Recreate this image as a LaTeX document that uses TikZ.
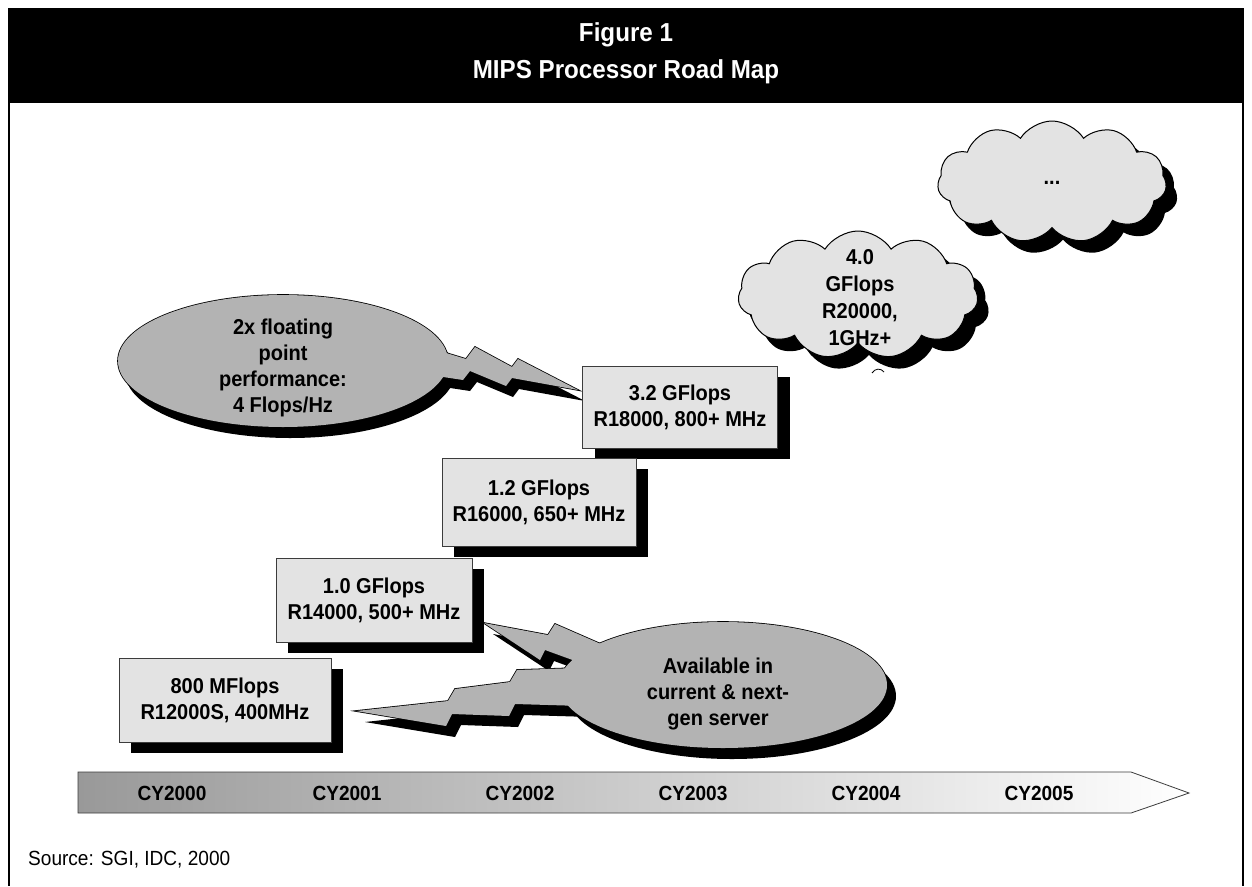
\documentclass[tikz,border=0pt]{standalone}
\usepackage{fontspec}
\setmainfont{Liberation Sans}[FakeStretch=0.93]
\usetikzlibrary{shapes.symbols,shadows}
\definecolor{boxgray}{HTML}{E3E3E3}
\definecolor{callgray}{HTML}{B3B3B3}
\definecolor{edgegray}{HTML}{3C3C3C}
\begin{document}
\begin{tikzpicture}[x=1pt,y=-1pt,
  txt/.style={font=\fontsize{21.5}{26}\selectfont\bfseries, align=center, text=black},
  procbox/.style={draw=edgegray, line width=0.9pt, fill=boxgray, txt, inner sep=0pt,
     drop shadow={shadow xshift=12pt, shadow yshift=-11pt, fill=black, opacity=1}},
  cloudbox/.style={cloud, cloud puffs=11, cloud puff arc=115, cloud ignores aspect,
     draw=black, line width=1pt, fill=boxgray, inner sep=0pt,
     drop shadow={shadow xshift=11pt, shadow yshift=-12pt, fill=black, opacity=1}},
  cyl/.style={font=\fontsize{20.5}{24}\selectfont\bfseries, text=black},
  shadowfill/.style={fill=black},
  calloutline/.style={draw=black, line width=1.6pt},
  calloutfill/.style={fill=callgray},
  ellA/.style={insert path={(283,361) ellipse [x radius=165pt, y radius=66pt]}},
  boltA/.style={insert path={(420,345) -- (466,359) -- (475,347) -- (512,367) -- (518,359) -- (578,390) -- (512,378) -- (506,386) -- (470,371) -- (463,380) -- (430,375) -- cycle}},
  ellB/.style={insert path={(723,685) ellipse [x radius=164pt, y radius=63pt]}},
  boltB/.style={insert path={(610,648) -- (555,624) -- (548,635) -- (484,623) -- (540,660) -- (545,650) -- (600,670) -- cycle}},
  boltC/.style={insert path={(578,668) -- (517,670) -- (510,682) -- (455,689) -- (448,701) -- (356,711) -- (446,726) -- (452,714) -- (509,716) -- (515,704) -- (582,706) -- cycle}},
]
\useasboundingbox (0,0) rectangle (1252,886);
\fill[white] (0,0) rectangle (1252,886);

% title bar and frame
\fill[black] (8,8) rectangle (1244,103);
\draw[black, line width=1.4pt] (9,103) -- (9,886);
\draw[black, line width=1.4pt] (1243,103) -- (1243,886);
\node[font=\fontsize{26}{30}\selectfont\bfseries, text=white] (t1) at (626,35) {Figure 1};
\node[font=\fontsize{26}{30}\selectfont\bfseries, text=white] (t2) at (626,72) {MIPS Processor Road Map};

% clouds
\node[cloudbox, minimum width=229pt, minimum height=122pt] (cA) at (1052,182) {};
\node[txt] (tA) at (1052,183) {...};
\node[cloudbox, minimum width=240pt, minimum height=128pt] (cB) at (858,295) {};
\node[txt, font=\fontsize{21.5}{27}\selectfont\bfseries] (tB) at (860,298) {4.0\\GFlops\\R20000,\\1GHz+};
\draw[black, line width=0.8pt] (872,373) .. controls (875,368) and (881,368) .. (884,372);

% callout 1 (floating point)
\begin{scope}[shift={(7,11)}]
  \fill[shadowfill, ellA];
  \fill[shadowfill, boltA];
\end{scope}
\path[calloutline, ellA];
\path[calloutline, boltA];
\fill[calloutfill, ellA];
\fill[calloutfill, boltA];
\node[txt] (tE1) at (283,368) {2x floating\\point\\performance:\\4 Flops/Hz};

% processor boxes
\node[procbox, minimum width=195pt, minimum height=82pt] (b4) at (680,407) {3.2 GFlops\\R18000, 800+ MHz};
\node[procbox, minimum width=194pt, minimum height=88pt] (b3) at (539,502) {1.2 GFlops\\R16000, 650+ MHz};
\node[procbox, minimum width=196pt, minimum height=84pt] (b2) at (374,600) {1.0 GFlops\\R14000, 500+ MHz};
\node[procbox, minimum width=212pt, minimum height=84pt] (b1) at (225,700) {800 MFlops\\R12000S, 400MHz};

% callout 2 (available)
\begin{scope}[shift={(9,11)}]
  \fill[shadowfill, ellB];
  \fill[shadowfill, boltB];
  \fill[shadowfill, boltC];
\end{scope}
\path[calloutline, ellB];
\path[calloutline, boltB];
\path[calloutline, boltC];
\fill[calloutfill, ellB];
\fill[calloutfill, boltB];
\fill[calloutfill, boltC];
\node[txt] (tE2) at (718,694) {Available in\\current \& next-\\gen server};

% timeline
\shadedraw[left color=black!40, right color=white, draw=edgegray, line width=0.8pt]
  (78,772) -- (1131,772) -- (1189,793) -- (1131,813) -- (78,813) -- cycle;
\node[cyl] (cy0) at (172,793) {CY2000};
\node[cyl] (cy1) at (347,793) {CY2001};
\node[cyl] (cy2) at (520,793) {CY2002};
\node[cyl] (cy3) at (693,793) {CY2003};
\node[cyl] (cy4) at (866,793) {CY2004};
\node[cyl] (cy5) at (1039,793) {CY2005};

% source
\node[anchor=west, font=\fontsize{20.5}{24}\selectfont, inner sep=0pt] (src) at (28,860) {Source: SGI, IDC, 2000};
\end{tikzpicture}
\end{document}
